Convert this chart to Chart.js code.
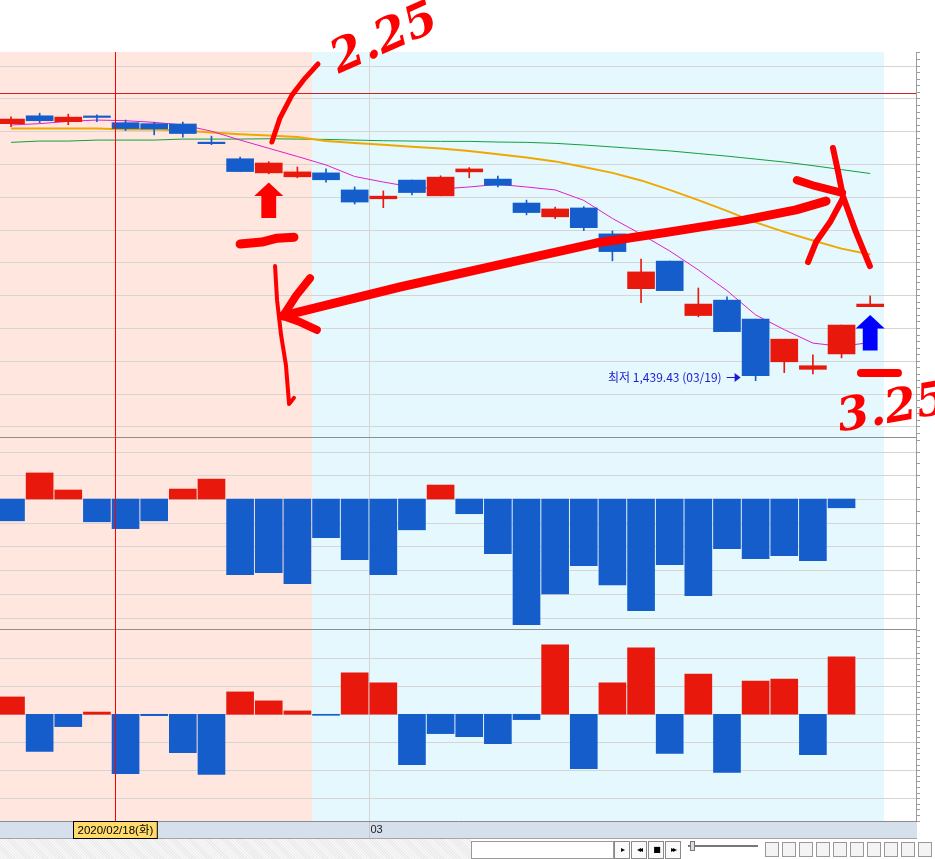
<!DOCTYPE html>
<html><head><meta charset="utf-8">
<script src="https://cdn.jsdelivr.net/npm/chart.js@4.4.1/dist/chart.umd.min.js"></script>
<style>
html,body{margin:0;padding:0;background:#fff;overflow:hidden;}
#wrap{position:relative;width:935px;height:859px;}
#c{position:absolute;left:0;top:0;}
.tb{position:absolute;box-sizing:border-box;}
#tbLeft{left:0;top:839px;width:471px;height:20px;background:repeating-linear-gradient(45deg,#f7f7f7 0 1px,#ebebeb 1px 2px);}
#tbInput{left:471px;top:841px;width:143px;height:18px;background:#fff;border:1px solid #9a9a9a;}
.btn{top:841px;width:16px;height:18px;background:#fafafa;border:1px solid #8a8a8a;font:8px "DejaVu Sans";color:#000;text-align:center;line-height:16px;letter-spacing:-2px;}
#slider{left:688px;top:845px;width:70px;height:2px;background:#777;}
#knob{left:690px;top:841px;width:5px;height:10px;background:#ddd;border:1px solid #777;}
.ico{top:842px;width:14px;height:15px;border:1px solid #999;background:#f4f4f4;}
</style></head>
<body><div id="wrap">
<canvas id="c" width="935" height="859"></canvas>
<div class="tb" id="tbLeft"></div>
<div class="tb" id="tbInput"></div>
<div class="tb btn" style="left:614px">&#9656;</div>
<div class="tb btn" style="left:631px">&#9666;&#9666;</div>
<div class="tb btn" style="left:648px">&#9632;</div>
<div class="tb btn" style="left:665px">&#9656;&#9656;</div>
<div class="tb" id="slider"></div>
<div class="tb" id="knob"></div>
<div class="tb ico" style="left:765px"></div>
<div class="tb ico" style="left:782px"></div>
<div class="tb ico" style="left:799px"></div>
<div class="tb ico" style="left:816px"></div>
<div class="tb ico" style="left:833px"></div>
<div class="tb ico" style="left:850px"></div>
<div class="tb ico" style="left:867px"></div>
<div class="tb ico" style="left:884px"></div>
<div class="tb ico" style="left:901px"></div>
<div class="tb ico" style="left:918px"></div>
</div>
<script>
// ---------------- DATA ----------------
const dates = ['2020/02/12','2020/02/13','2020/02/14','2020/02/17','2020/02/18','2020/02/19','2020/02/20','2020/02/21',
  '2020/02/24','2020/02/25','2020/02/26','2020/02/27','2020/02/28','2020/03/02','2020/03/03','2020/03/04','2020/03/05',
  '2020/03/06','2020/03/09','2020/03/10','2020/03/11','2020/03/12','2020/03/13','2020/03/16','2020/03/17','2020/03/18',
  '2020/03/19','2020/03/20','2020/03/23','2020/03/24','2020/03/25'];
const opens  = [2223,2247,2229,2245,2226,2223,2222,2165,2116,2073,2061,2073,2021,1994,2051,2003,2076,2054,1981,1939,1966,1887,1720,1804,1638,1685,1627,1497,1474,1521,1665];
const highs  = [2244,2255,2252,2250,2234,2227,2228,2185,2121,2107,2091,2085,2030,2018,2051,2064,2089,2063,1990,1969,1970,1896,1810,1804,1722,1695,1627,1566,1518,1609,1698];
const lows   = [2214,2226,2220,2229,2202,2189,2182,2159,2077,2070,2058,2045,1978,1967,2006,2003,2058,2030,1945,1933,1897,1805,1677,1714,1634,1589,1439.43,1464,1460,1509,1665];
const closes = [2237,2232,2243,2242,2208,2207,2193,2162,2077,2103,2076,2052,1984,2002,2013,2060,2085,2035,1952,1963,1906,1833,1771,1714,1673,1589,1455,1566,1485,1609,1673];
const ma5  = [2219,2223,2230,2234,2232,2227,2219,2200,2173,2148,2123,2097,2062,2045,2030,2024,2030,2038,2030,2021,1989,1934,1886,1835,1777,1714,1640,1595,1554,1544,1556];
const ma20 = [2208,2208,2208,2208,2205,2205,2202,2196,2191,2187,2182,2170,2164,2159,2153,2147,2140,2130,2120,2108,2091,2073,2050,2021,1990,1957,1922,1893,1867,1842,1824];
const ma60 = [2166,2170,2170,2173,2173,2173,2176,2176,2176,2177,2176,2175,2173,2171,2170,2169,2169,2167,2166,2163,2158,2152,2146,2140,2132,2124,2115,2106,2095,2083,2071];
const subValues1 = [-92,110,38,-96,-125,-92,42,84,-319,-311,-357,-163,-256,-319,-130,59,-62,-231,-530,-400,-281,-362,-471,-277,-408,-210,-252,-239,-260,-37,null];
const subValues2 = [62,-133,-44,8,-212,-5,-137,-215,80,48,12,-2,148,112,-180,-69,-80,-105,-19,248,-194,112,237,-140,144,-208,119,126,-144,205,null];
const mainTicks = [1300,1400,1500,1600,1700,1800,1900,2000,2100,2200,2300,2400];
const sub1Ticks = [-500,-400,-300,-200,-100,0,100,200];
const sub2Ticks = [-300,-200,-100,0,100,200];
const refPrice = 2316;
const cursorPos = 3.63;      // mouse crosshair position (index units)
const cursorIndex = 4;       // date shown under the cursor
const shadeRanges = [{from:-0.5,to:10.5,color:'#FFE6DE'},{from:10.5,to:30.5,color:'#E4F8FE'}];

// hand-drawn annotations, in (index, price) units of the main panel
const annoStrokes = [
  {w:5, pts:[[9.11,2167],[9.39,2240],[9.81,2310],[10.27,2362],[10.72,2405]]},
  {w:9, pts:[[8.00,1856],[8.76,1862],[9.29,1874],[9.88,1877]]},
  {w:4, pts:[[9.22,1789],[9.29,1685],[9.43,1579],[9.60,1487],[9.67,1411],[9.71,1368],[9.88,1387]]},
  {w:9, pts:[[28.46,1987],[27.41,1960],[25.59,1929],[23.01,1893],[20.43,1859],[17.46,1801],[13.58,1725],[9.50,1637]]},
  {w:8, pts:[[9.50,1637],[9.95,1698],[10.44,1752]]},
  {w:8, pts:[[9.50,1637],[10.09,1618],[10.68,1594]]},
  {w:8, pts:[[27.44,2051],[28.07,2033],[29.02,2012]]},
  {w:6, pts:[[28.70,2149],[28.88,2076],[29.05,2002],[29.50,1893],[29.99,1789]]},
  {w:6, pts:[[29.05,1996],[28.60,1923],[28.11,1862],[27.83,1801]]},
  {w:8, pts:[[29.68,1463],[30.97,1463]]}
];
const annoArrows = [
  {i:9, tip:2044, color:'#FF0000'},
  {i:30, tip:1640, color:'#0000FF'}
];
const annoTexts = [
  {i:13.06, v:2478, text:'2.25', rot:-24},
  {i:30.80, v:1350, text:'3.25', rot:-10}
];

// ---------------- CHART ----------------
const UP='#E8190C', DOWN='#145DCB';
const N = dates.length;
const candleColor = closes.map((c,i)=> c>=opens[i]?UP:DOWN);
const pts = arr => arr.map((v,i)=>({x:i,y:v})).filter(p=>p.y!==null);
const signColor = arr => arr.filter(v=>v!==null).map(v=> v>=0?UP:DOWN);

const bgPlugin = {
  id:'bg',
  beforeDraw(ch){
    const ctx=ch.ctx, a=ch.chartArea, xs=ch.scales.x;
    const y1=ch.scales.yMain, y2=ch.scales.ySub1, y3=ch.scales.ySub2;
    ctx.save();
    ctx.fillStyle='#fff'; ctx.fillRect(0,0,ch.width,ch.height);
    for(const r of shadeRanges){
      const xa=Math.round(xs.getPixelForValue(r.from)), xb=Math.round(xs.getPixelForValue(r.to));
      ctx.fillStyle=r.color; ctx.fillRect(Math.max(a.left,xa),a.top,xb-Math.max(a.left,xa),a.bottom-a.top);
    }
    const sep1=437, sep2=629;
    ctx.strokeStyle='#D5D5D5'; ctx.lineWidth=1;
    const hline=(y)=>{ctx.beginPath();ctx.moveTo(a.left,y);ctx.lineTo(a.right,y);ctx.stroke();};
    for(const v of mainTicks){const y=Math.round(y1.getPixelForValue(v))+0.5; if(y>a.top&&y<sep1) hline(y);}
    for(const v of sub1Ticks){const y=Math.round(y2.getPixelForValue(v))+0.5; if(y>sep1&&y<sep2) hline(y);}
    for(const v of sub2Ticks){const y=Math.round(y3.getPixelForValue(v))+0.5; if(y>sep2+2&&y<a.bottom) hline(y);}
    // month boundaries
    for(let i=1;i<N;i++){
      if(dates[i].slice(5,7)!==dates[i-1].slice(5,7)){
        const x=Math.round(xs.getPixelForValue(i-0.5))+0.5;
        ctx.beginPath();ctx.moveTo(x,a.top);ctx.lineTo(x,a.bottom+18);ctx.stroke();
      }
    }
    ctx.strokeStyle='#8E8E8E';
    hline(sep1+0.5); hline(sep2+0.5);
    // reference line
    ctx.strokeStyle='#D02020';
    hline(Math.round(y1.getPixelForValue(refPrice))+0.5);
    ctx.restore();
  },
  afterDatasetsDraw(ch){
    const ctx=ch.ctx, a=ch.chartArea, xs=ch.scales.x;
    ctx.save();
    const x=Math.round(xs.getPixelForValue(cursorPos))+0.5;
    ctx.strokeStyle='#FF0000'; ctx.lineWidth=1;
    ctx.beginPath();ctx.moveTo(x,a.top);ctx.lineTo(x,a.bottom);ctx.stroke();
    // lowest low label
    let li=0; lows.forEach((v,i)=>{if(v<lows[li]) li=i;});
    const lx=xs.getPixelForValue(li)-15, ly=Math.round(ch.scales.yMain.getPixelForValue(lows[li]))-4;
    ctx.strokeStyle='#1C1CD0'; ctx.fillStyle='#1C1CD0';
    ctx.beginPath();ctx.moveTo(lx-14,ly+0.5);ctx.lineTo(lx-4,ly+0.5);ctx.stroke();
    ctx.beginPath();ctx.moveTo(lx,ly+0.5);ctx.lineTo(lx-6,ly-4);ctx.lineTo(lx-6,ly+5);ctx.closePath();ctx.fill();
    const md=dates[li].slice(5);
    const txt='최저 '+lows[li].toLocaleString('en-US',{minimumFractionDigits:2})+' ('+md+')';
    ctx.font='12px "Noto Sans CJK KR", "Liberation Sans"';
    ctx.textAlign='right'; ctx.textBaseline='middle';
    ctx.fillText(txt,lx-19,ly);
    ctx.restore();
  },
  afterDraw(ch){
    const ctx=ch.ctx, a=ch.chartArea, xs=ch.scales.x, ys=ch.scales.yMain;
    ctx.save();
    // right axis with minor ticks
    ctx.strokeStyle='#9C9C9C'; ctx.lineWidth=1;
    ctx.beginPath();ctx.moveTo(a.right+0.5,a.top);ctx.lineTo(a.right+0.5,a.bottom+18);ctx.stroke();
    const ticks=(scale,step,y0,y1)=>{
      const vTop=scale.getValueForPixel(y0), vBot=scale.getValueForPixel(y1);
      for(let v=Math.ceil(vBot/step)*step; v<=vTop; v+=step){
        const y=Math.round(scale.getPixelForValue(v))+0.5;
        ctx.beginPath();ctx.moveTo(a.right+1,y);ctx.lineTo(a.right+4,y);ctx.stroke();
      }
    };
    ticks(ys,20,a.top,437); ticks(ch.scales.ySub1,50,437,629); ticks(ch.scales.ySub2,20,629,a.bottom);
    // bottom axis strip
    ctx.fillStyle='#D6DFEC'; ctx.fillRect(0,a.bottom,a.right+1,18);
    ctx.strokeStyle='#8C8C8C';
    ctx.beginPath();ctx.moveTo(0,a.bottom+0.5);ctx.lineTo(a.right+1,a.bottom+0.5);ctx.stroke();
    ctx.strokeStyle='#A5A5A5';
    ctx.beginPath();ctx.moveTo(0,a.bottom+17.5);ctx.lineTo(a.right+1,a.bottom+17.5);ctx.stroke();
    ctx.font='11px "Liberation Sans", "Noto Sans CJK KR"'; ctx.textBaseline='middle';
    for(let i=1;i<N;i++){
      if(dates[i].slice(5,7)!==dates[i-1].slice(5,7)){
        const x=Math.round(xs.getPixelForValue(i-0.5))+0.5;
        ctx.strokeStyle='#C8C8C8';
        ctx.beginPath();ctx.moveTo(x,a.bottom+1);ctx.lineTo(x,a.bottom+17);ctx.stroke();
        ctx.fillStyle='#222'; ctx.textAlign='left';
        ctx.fillText(dates[i].slice(5,7),x+1,a.bottom+9);
      }
    }
    // cursor date label
    const wd='일월화수목금토'[new Date(dates[cursorIndex].replace(/\//g,'-')+'T00:00:00').getDay()];
    const lab=dates[cursorIndex]+'('+wd+')';
    const cx=xs.getPixelForValue(cursorPos);
    ctx.font='11.5px "Liberation Sans", "Noto Sans CJK KR"';
    const w=ctx.measureText(lab).width+8;
    const bx=Math.round(cx-w/2)+0.5;
    ctx.fillStyle='#FFDB6E'; ctx.fillRect(bx,a.bottom+0.5,w,17);
    ctx.strokeStyle='#000'; ctx.strokeRect(bx,a.bottom+0.5,w,17);
    ctx.fillStyle='#000'; ctx.textAlign='center';
    ctx.fillText(lab,bx+w/2,a.bottom+9.5);
    // hand-drawn annotations
    const P=p=>[xs.getPixelForValue(p[0]),ys.getPixelForValue(p[1])];
    ctx.strokeStyle='#FF0000'; ctx.lineCap='round'; ctx.lineJoin='round';
    for(const s of annoStrokes){
      ctx.lineWidth=s.w; ctx.beginPath();
      s.pts.forEach((p,k)=>{const [x,y]=P(p); k?ctx.lineTo(x,y):ctx.moveTo(x,y);});
      ctx.stroke();
    }
    for(const ar of annoArrows){
      const [x,y]=P([ar.i,ar.tip]);
      const hw=14.5, hh=13.7, sw=7.4, sl=22;
      ctx.fillStyle=ar.color; ctx.beginPath();
      ctx.moveTo(x,y);ctx.lineTo(x+hw,y+hh);ctx.lineTo(x+sw,y+hh);ctx.lineTo(x+sw,y+hh+sl);
      ctx.lineTo(x-sw,y+hh+sl);ctx.lineTo(x-sw,y+hh);ctx.lineTo(x-hw,y+hh);ctx.closePath();ctx.fill();
    }
    for(const t of annoTexts){
      const [x,y]=P([t.i,t.v]);
      ctx.save(); ctx.translate(x,y); ctx.rotate(t.rot*Math.PI/180);
      ctx.font='italic bold 46px "DejaVu Serif"'; ctx.fillStyle='#FF0000';
      ctx.textAlign='center'; ctx.textBaseline='middle';
      ctx.fillText(t.text,0,0); ctx.restore();
    }
    ctx.restore();
  }
};

new Chart(document.getElementById('c'), {
  data:{
    datasets:[
      {type:'line', label:'MA60', data:pts(ma60), borderColor:'#12A03C', borderWidth:1, pointRadius:0, yAxisID:'yMain', order:5},
      {type:'line', label:'MA20', data:pts(ma20), borderColor:'#F0A800', borderWidth:2, pointRadius:0, yAxisID:'yMain', order:4},
      {type:'line', label:'MA5', data:pts(ma5), borderColor:'#E020C8', borderWidth:1, pointRadius:0, yAxisID:'yMain', order:3},
      {type:'bar', label:'wick', data:lows.map((l,i)=>({x:i,y:[l,highs[i]]})), backgroundColor:candleColor,
        barThickness:1, grouped:false, yAxisID:'yMain', order:2},
      {type:'bar', label:'body', data:opens.map((o,i)=>({x:i,y:[o,closes[i]]})), backgroundColor:candleColor,
        barThickness:27, minBarLength:1.5, grouped:false, yAxisID:'yMain', order:1},
      {type:'bar', label:'sub1', data:pts(subValues1), backgroundColor:signColor(subValues1),
        barThickness:27, grouped:false, yAxisID:'ySub1', order:1},
      {type:'bar', label:'sub2', data:pts(subValues2), backgroundColor:signColor(subValues2),
        barThickness:27, minBarLength:1, grouped:false, yAxisID:'ySub2', order:1}
    ]
  },
  options:{
    responsive:false, animation:false, events:[],
    layout:{padding:{top:52,bottom:38,left:0,right:19}},
    plugins:{legend:{display:false}, tooltip:{enabled:false}, title:{display:false}},
    scales:{
      x:{type:'linear', min:-0.384, max:31.6, offset:false, grid:{offset:false}, display:false},
      yMain:{type:'linear', min:97, max:2441.5, display:false},
      ySub1:{type:'linear', min:-1358.6, max:1886.1, display:false},
      ySub2:{type:'linear', min:-381.1, max:2365.4, display:false}
    }
  },
  plugins:[bgPlugin]
});
</script>
</body></html>
